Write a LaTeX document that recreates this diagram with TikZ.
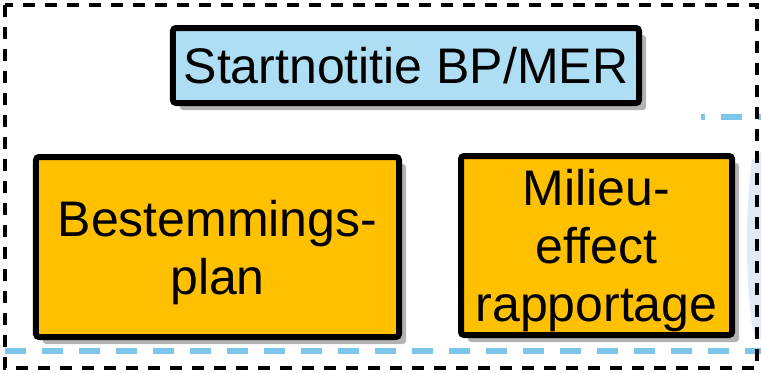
\documentclass[tikz,border=0pt]{standalone}
\usepackage{fontspec}
\setmainfont{Liberation Sans}
\usetikzlibrary{shadows}

\definecolor{startblue}{RGB}{174,222,244}
\definecolor{planorange}{RGB}{255,192,0}
\definecolor{lineblue}{RGB}{124,198,236}
\definecolor{bgshade}{RGB}{228,234,244}

\tikzset{
  box/.style={draw=black,line width=6bp,rounded corners=3bp,align=center,
    font=\fontsize{50bp}{58bp}\selectfont,inner sep=0pt,
    drop shadow={shadow xshift=7bp,shadow yshift=-7bp,fill=black!50,opacity=.6}},
  textdown/.style={text depth=-3.5bp},
  frameline/.style={line width=4bp,dash pattern=on 12bp off 10bp},
  blueline/.style={draw=lineblue,line width=5.5bp,dash pattern=on 21bp off 16bp}
}

\begin{document}
\begin{tikzpicture}[x=1bp,y=-1bp]
   \useasboundingbox (0,0) rectangle (761,373);

   % faint background shape at the right edge
   \fill[bgshade] (752,160) .. controls (745,210) and (745,290) .. (754,336)
      -- (761,340) -- (761,152) -- cycle;

   \draw[blueline] (5,351) -- (761,351);
   \draw[blueline,dash phase=17bp] (701,117) -- (761,117);

   \draw[frameline] (5,5) rectangle (757,368);

   \node[box,fill=startblue,minimum width=466bp,minimum height=75bp] (start) at (406,65.5)
      {Startnotitie BP/MER};
   \node[box,textdown,fill=planorange,minimum width=363bp,minimum height=180bp] (bp) at (217.5,247)
      {Bestemmings-\\plan};
   \node[box,textdown,fill=planorange,minimum width=271bp,minimum height=179bp] (mer) at (596.5,245.5)
      {Milieu-\\effect\\rapportage};
\end{tikzpicture}
\end{document}
